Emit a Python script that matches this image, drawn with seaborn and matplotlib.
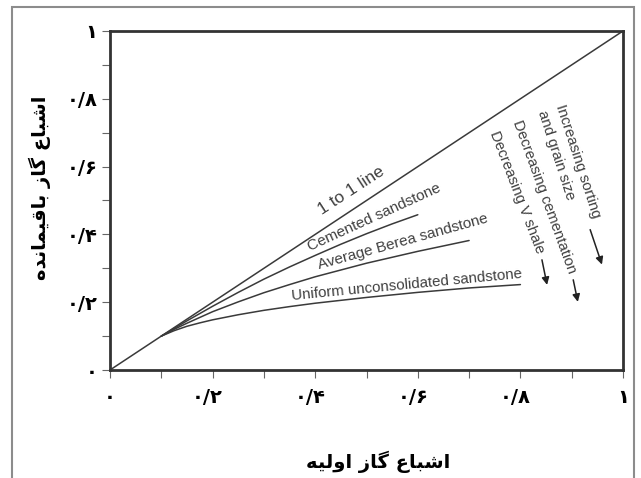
import numpy as np
import pandas as pd
import matplotlib
matplotlib.use("Agg")
import matplotlib.pyplot as plt
import matplotlib.transforms as mtransforms
import seaborn as sns
from matplotlib.patches import Rectangle

# ---------------- data ----------------
one_x = [0.0, 1.0]
one_y = [0.0, 1.0]

cem_x = [0.10, 0.15, 0.20, 0.25, 0.30, 0.35, 0.40, 0.45, 0.50, 0.55, 0.60]
cem_y = [0.10, 0.145, 0.188, 0.229, 0.268, 0.304, 0.338, 0.371, 0.402, 0.431, 0.458]

berea_x = [0.10, 0.125, 0.15, 0.175, 0.20, 0.25, 0.30, 0.35, 0.40, 0.50, 0.60, 0.70]
berea_y = [0.10, 0.120, 0.138, 0.155, 0.172, 0.201, 0.228, 0.252, 0.275, 0.315, 0.350, 0.382]

unif_x = [0.10, 0.125, 0.15, 0.175, 0.20, 0.25, 0.30, 0.35, 0.40, 0.50, 0.60, 0.70, 0.80]
unif_y = [0.10, 0.116, 0.129, 0.139, 0.148, 0.163, 0.176, 0.187, 0.197, 0.214, 0.229, 0.242, 0.252]

tick_values = [0.0, 0.2, 0.4, 0.6, 0.8, 1.0]
tick_labels = ["۰", "۰/۲", "۰/۴", "۰/۶", "۰/۸", "۱"]

x_label = "اشباع گاز اولیه"
y_label = "اشباع گاز باقیمانده"

# ---------------- simple Persian shaping (matplotlib has no Arabic shaping) ----------------
FORMS = {
    "ا": ("\uFE8D", "\uFE8E", None, None),
    "ب": ("\uFE8F", "\uFE90", "\uFE91", "\uFE92"),
    "ش": ("\uFEB5", "\uFEB6", "\uFEB7", "\uFEB8"),
    "ع": ("\uFEC9", "\uFECA", "\uFECB", "\uFECC"),
    "گ": ("\uFB92", "\uFB93", "\uFB94", "\uFB95"),
    "ز": ("\uFEAF", "\uFEB0", None, None),
    "و": ("\uFEED", "\uFEEE", None, None),
    "ل": ("\uFEDD", "\uFEDE", "\uFEDF", "\uFEE0"),
    "ی": ("\uFBFC", "\uFBFD", "\uFBFE", "\uFBFF"),
    "ه": ("\uFEE9", "\uFEEA", "\uFEEB", "\uFEEC"),
    "ق": ("\uFED5", "\uFED6", "\uFED7", "\uFED8"),
    "م": ("\uFEE1", "\uFEE2", "\uFEE3", "\uFEE4"),
    "ن": ("\uFEE5", "\uFEE6", "\uFEE7", "\uFEE8"),
    "د": ("\uFEA9", "\uFEAA", None, None),
}


def shape_word(w):
    out = []
    for i, ch in enumerate(w):
        f = FORMS.get(ch)
        if f is None:
            out.append(ch)
            continue
        prev_c = i > 0 and w[i - 1] in FORMS and FORMS[w[i - 1]][2] is not None
        next_c = i < len(w) - 1 and f[2] is not None and w[i + 1] in FORMS
        if prev_c and next_c:
            out.append(f[3])
        elif prev_c:
            out.append(f[1])
        elif next_c:
            out.append(f[2])
        else:
            out.append(f[0])
    return "".join(out)


def rtl(text):
    return " ".join(shape_word(w)[::-1] for w in reversed(text.split()))


# ---------------- figure ----------------
sns.set_theme(style="white")
plt.rcParams["font.family"] = ["Liberation Sans", "DejaVu Sans"]

fig = plt.figure(figsize=(6.41, 4.78), dpi=100)
ax = fig.add_axes([110 / 641, 1 - 370 / 478, 513 / 641, 339 / 478])

line_col = "#3a3a3a"
txt_col = "#404040"

sns.lineplot(x=one_x, y=one_y, ax=ax, color=line_col, lw=1.1)
sns.lineplot(x=cem_x, y=cem_y, ax=ax, color=line_col, lw=1.1)
sns.lineplot(x=berea_x, y=berea_y, ax=ax, color=line_col, lw=1.1)
sns.lineplot(x=unif_x, y=unif_y, ax=ax, color=line_col, lw=1.1)

ax.set_xlim(0, 1)
ax.set_ylim(0, 1)

ax.set_xticks(tick_values)
ax.set_xticklabels(tick_labels)
ax.set_yticks(tick_values)
ax.set_yticklabels(tick_labels)
ax.set_xticks(np.arange(0.1, 1.0, 0.2), minor=True)
ax.set_yticks(np.arange(0.1, 1.0, 0.2), minor=True)
ax.tick_params(which="both", direction="out", length=6, width=0.8, color="#666666",
               bottom=True, left=True)
ax.tick_params(axis="x", pad=7)
ax.tick_params(axis="y", pad=3)
for lab in ax.get_xticklabels() + ax.get_yticklabels():
    lab.set_family(["DejaVu Sans"])
    lab.set_fontweight("bold")
    lab.set_fontsize(14)
    lab.set_color("black")

# the multi-character x labels sit slightly left of their ticks in the reference
shift = mtransforms.ScaledTranslation(-5 / 100, 0, fig.dpi_scale_trans)
for lab in ax.get_xticklabels()[1:-1]:
    lab.set_transform(lab.get_transform() + shift)

for s in ax.spines.values():
    s.set_visible(True)
    s.set_color("#333333")
    s.set_linewidth(2.0)

ax.set_xlabel(rtl(x_label), family=["DejaVu Sans"], fontweight="bold", fontsize=14,
              color="black", va="center")
ax.xaxis.set_label_coords(0.522, -0.271)
ax.set_ylabel(rtl(y_label), family=["DejaVu Sans"], fontweight="bold", fontsize=14,
              color="black", va="center")
ax.yaxis.set_label_coords(-0.136, 0.537)

# curve annotations
kw = dict(color=txt_col, ha="center", va="center", rotation_mode="anchor")
ax.text(0.470, 0.530, "1 to 1 line", rotation=33, fontsize=12.5, **kw)
ax.text(0.515, 0.450, "Cemented sandstone", rotation=24.5, fontsize=11, **kw)
ax.text(0.571, 0.379, "Average Berea sandstone", rotation=15.5, fontsize=11, **kw)
ax.text(0.579, 0.251, "Uniform unconsolidated sandstone", rotation=5.5, fontsize=10.8, **kw)

ax.text(0.912, 0.615, "Increasing sorting", rotation=-72, fontsize=10.8, **kw)
ax.text(0.869, 0.633, "and grain size", rotation=-72, fontsize=10.8, **kw)
ax.text(0.846, 0.512, "Decreasing cementation", rotation=-70, fontsize=10.8, **kw)
ax.text(0.794, 0.524, "Decreasing V shale", rotation=-69, fontsize=10.8, **kw)

arrow = dict(arrowstyle="-|>", color="#222222", lw=1.1, mutation_scale=11, shrinkA=0, shrinkB=0)
ax.annotate("", xy=(0.959, 0.311), xytext=(0.936, 0.414), arrowprops=arrow)
ax.annotate("", xy=(0.912, 0.201), xytext=(0.903, 0.266), arrowprops=arrow)
ax.annotate("", xy=(0.852, 0.251), xytext=(0.842, 0.325), arrowprops=arrow)

# outer frame
fig.add_artist(Rectangle((12 / 641, -0.05), (634 - 12) / 641, 1 - 7 / 478 + 0.05,
                         transform=fig.transFigure, fill=False, edgecolor="#8c8c8c",
                         lw=1.5, clip_on=False))

fig.savefig("out.png", dpi=100)
